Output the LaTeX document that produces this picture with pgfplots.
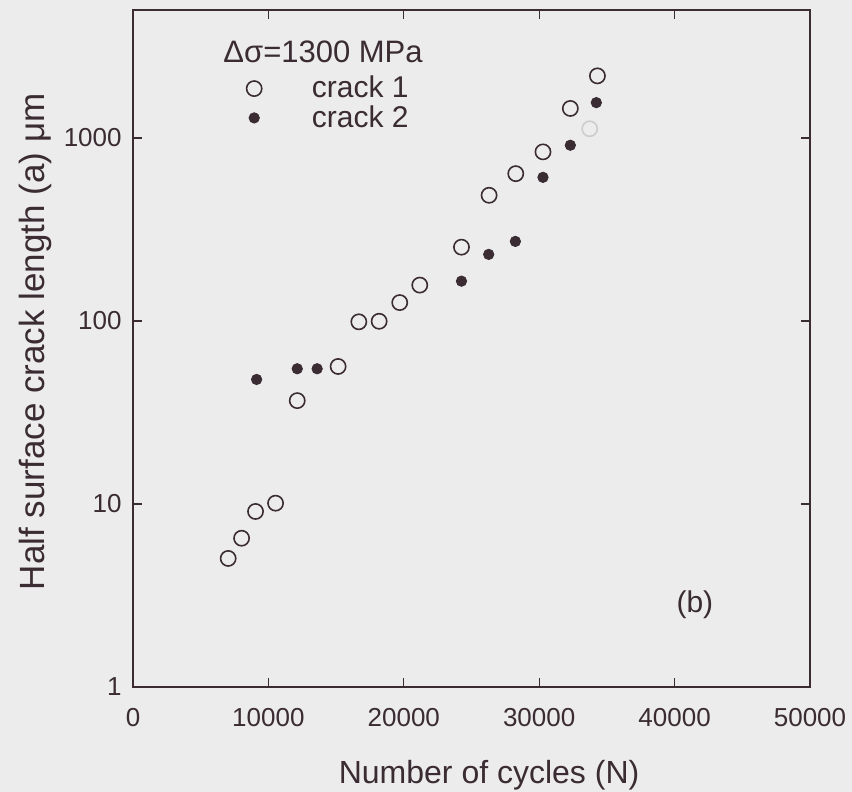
\documentclass[border=0pt]{standalone}
\usepackage{pgfplots}
\pgfplotsset{compat=1.18}
\usepackage{fontspec}
\setmainfont{Liberation Sans}
\definecolor{ink}{RGB}{58,44,50}
\definecolor{bg}{RGB}{236,236,236}
\definecolor{ghost}{RGB}{205,205,205}
\pgfplotsset{myleg/.style={legend image code/.code={\draw[##1] plot coordinates {(0pt,0pt)}; \path (-10pt,0pt) (27.75pt,0pt);}}}
\begin{document}
\begin{tikzpicture}
\useasboundingbox[fill=bg] (-66.5pt,-52.5pt) rectangle (359.5pt,343.5pt);
\begin{axis}[
  at={(0,0)}, anchor=south west,
  scale only axis, width=338.5pt, height=338.5pt,
  xmin=0, xmax=50000, ymode=log, ymin=1, ymax=5000,
  xtick={0,10000,20000,30000,40000,50000},
  xticklabels={0,10000,20000,30000,40000,50000},
  scaled x ticks=false,
  ytick={1,10,100,1000}, yticklabels={1,10,100,1000},
  yminorticks=false,
  tick align=inside, major tick length=4.5pt,
  axis line style={ink, line width=0.7pt},
  every tick/.style={ink, line width=0.6pt},
  tick label style={font=\fontsize{13}{15}\selectfont, text=ink},
  xticklabel style={anchor=north, inner sep=0pt, yshift=-10.5pt},
  yticklabel style={anchor=east, inner sep=0pt, xshift=-5.5pt},
  xlabel={Number of cycles (N)},
  xlabel style={at={(axis description cs:0.526,0)}, anchor=base, yshift=-48.5pt, font=\fontsize{16}{19}\selectfont, text=ink},
  ylabel={Half surface crack length (a) μm},
  ylabel style={at={(axis description cs:-0.130,0.51)}, anchor=base, font=\fontsize{17.5}{20}\selectfont, text=ink},
  legend style={draw=none, fill=none, at={(axis description cs:0.1477,0.905)}, anchor=north west, inner sep=0pt, nodes={inner sep=0.75pt, text depth=0.15em, text=ink}, font=\fontsize{15}{18}\selectfont, row sep=0.8pt},
  legend cell align=left,
]
\addplot[only marks, mark=o, mark size=3.8pt, ink, line width=0.8pt, myleg] coordinates {
(7030,5.04) (8020,6.5) (9050,9.1) (10530,10.1) (12130,36.7) (15150,56.4)
(16680,98.9) (18180,99.6) (19700,126) (21180,157) (24260,253) (26300,486)
(28270,638) (30280,839) (32300,1449) (34300,2183)
};
\addlegendentry{crack 1}
\addplot[only marks, mark=*, mark size=2.6pt, ink, mark options={fill=ink}, myleg] coordinates {
(9130,47.9) (12130,54.8) (13600,54.8) (24260,165) (26270,231) (28240,272)
(30280,609) (32300,912) (34220,1559)
};
\addlegendentry{crack 2}
\addplot[only marks, mark=o, mark size=3.8pt, ghost, line width=0.8pt, forget plot] coordinates {(33730,1122)};
\node[anchor=base west, inner sep=0pt, font=\fontsize{15.5}{18}\selectfont, text=ink] at (axis description cs:0.133,0.923) {Δσ=1300 MPa};
\node[font=\fontsize{15}{18}\selectfont, text=ink] at (axis cs:41500,2.82) {(b)};
\end{axis}
\end{tikzpicture}
\end{document}
